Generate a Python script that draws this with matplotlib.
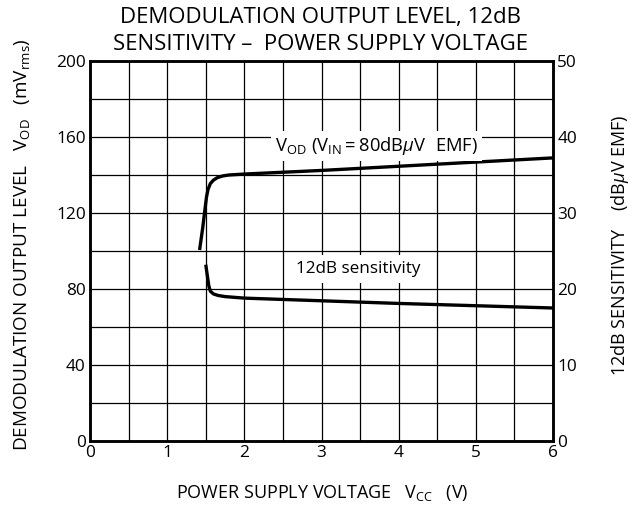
import numpy as np
import matplotlib.pyplot as plt

plt.rcParams['font.family'] = ['Open Sans', 'DejaVu Sans']
plt.rcParams['mathtext.fontset'] = 'custom'
plt.rcParams['mathtext.rm'] = 'Open Sans'
plt.rcParams['mathtext.it'] = 'Open Sans:italic'

# Datos
vcc_vod = [1.42, 1.46, 1.49, 1.51, 1.53, 1.56, 1.60, 1.65, 1.72, 1.80, 2.0, 3.0, 4.0, 5.0, 6.0]
vod = [100.5, 112.0, 122.0, 128.5, 132.5, 135.5, 137.3, 138.6, 139.5, 140.0, 140.5, 142.4, 144.6, 146.8, 149.0]

vcc_sens = [1.50, 1.52, 1.54, 1.56, 1.60, 1.66, 1.75, 1.85, 2.0, 3.0, 4.0, 5.0, 6.0]
sens = [23.2, 21.8, 20.4, 19.7, 19.35, 19.15, 19.0, 18.92, 18.8, 18.45, 18.1, 17.8, 17.5]

x_ticks = [0, 1, 2, 3, 4, 5, 6]
left_ticks = [0, 40, 80, 120, 160, 200]
right_ticks = [0, 10, 20, 30, 40, 50]

fig = plt.figure(figsize=(6.41, 5.12), dpi=100)
ax = fig.add_axes([90/641, 71/512, 463/641, 380/512])
ax2 = ax.twinx()

# rejilla
for xv in np.arange(0.5, 6.0, 0.5):
    ax.axvline(xv, color='black', lw=0.9, zorder=1)
for yv in np.arange(20, 200, 20):
    ax.axhline(yv, color='black', lw=0.9, zorder=1)

ax.plot(vcc_vod, vod, color='black', lw=2.4, solid_capstyle='butt', zorder=3)
ax2.plot(vcc_sens, sens, color='black', lw=2.4, solid_capstyle='butt', zorder=3)

ax.set_xlim(0, 6)
ax.set_ylim(0, 200)
ax2.set_ylim(0, 50)
ax.set_xticks(x_ticks)
ax.set_yticks(left_ticks)
ax2.set_yticks(right_ticks)
ax.tick_params(length=0, labelsize=12.4, pad=3)
ax2.tick_params(length=0, labelsize=12.4, pad=3)
for a in (ax, ax2):
    for s in a.spines.values():
        s.set_linewidth(1.8)

ax.text(3.71, 155.3, r'$\mathrm{V_{OD}\ (V_{IN}=80dB}\mathit{\mu}\mathrm{V\ \ EMF)}$',
        ha='center', va='center', fontsize=13.2,
        bbox=dict(facecolor='white', edgecolor='none', pad=3), zorder=4)
ax.text(3.47, 90.5, '12dB sensitivity', ha='center', va='center', fontsize=12.3,
        bbox=dict(facecolor='white', edgecolor='none', pad=4), zorder=4)

fig.text(0.5, 1 - 17/512, 'DEMODULATION OUTPUT LEVEL, 12dB', ha='center', va='center', fontsize=16)
fig.text(0.5, 1 - 44/512, 'SENSITIVITY \u2013  POWER SUPPLY VOLTAGE', ha='center', va='center', fontsize=16)

fig.text(322/641, 1 - 493/512, r'POWER SUPPLY VOLTAGE   $\mathrm{V_{CC}}$   (V)',
         ha='center', va='center', fontsize=13)
fig.text(22/641, 1 - 245/512, r'DEMODULATION OUTPUT LEVEL   $\mathrm{V_{OD}}$   (mV$\mathrm{_{rms}}$)',
         ha='center', va='center', rotation=90, fontsize=13.6)
fig.text(620/641, 1 - 245/512, r'12dB SENSITIVITY    (dB$\mathit{\mu}$V EMF)',
         ha='center', va='center', rotation=90, fontsize=13)

plt.savefig('out.png', dpi=100)
